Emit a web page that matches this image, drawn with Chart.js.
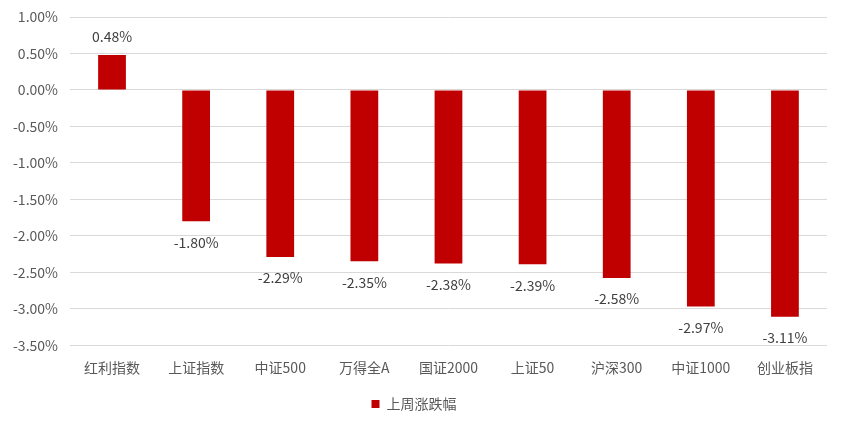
<!DOCTYPE html>
<html>
<head>
<meta charset="utf-8">
<script src="https://cdn.jsdelivr.net/npm/chart.js@4/dist/chart.umd.min.js"></script>
<style>
  html, body { margin: 0; padding: 0; background: #fff; }
  #wrap { width: 843px; height: 428px; }
</style>
</head>
<body>
<div id="wrap"><canvas id="barChart"></canvas></div>
<script>
var categories = ["红利指数", "上证指数", "中证500", "万得全A", "国证2000", "上证50", "沪深300", "中证1000", "创业板指"];
var weeklyChange = [0.48, -1.80, -2.29, -2.35, -2.38, -2.39, -2.58, -2.97, -3.11];
var seriesName = "上周涨跌幅";

var FONT = "'Microsoft YaHei', 'Noto Sans CJK SC', sans-serif";

// draws the value label above / below each bar
var valueLabels = {
  id: 'valueLabels',
  afterDatasetsDraw: function (chart) {
    var ctx = chart.ctx;
    var meta = chart.getDatasetMeta(0);
    ctx.save();
    ctx.font = "14px " + FONT;
    ctx.fillStyle = '#404040';
    ctx.textAlign = 'center';
    ctx.textBaseline = 'middle';
    meta.data.forEach(function (bar, i) {
      var v = weeklyChange[i];
      var y = v >= 0 ? bar.y - 18 : bar.y + 21;
      ctx.fillText(v.toFixed(2) + '%', bar.x, y);
    });
    ctx.restore();
  }
};

var ctxB = document.getElementById("barChart").getContext('2d');
var myBarChart = new Chart(ctxB, {
  type: 'bar',
  data: {
    labels: categories,
    datasets: [{
      label: seriesName,
      data: weeklyChange,
      backgroundColor: '#C00000',
      borderWidth: 0,
      barPercentage: 0.33,
      categoryPercentage: 1.0
    }]
  },
  options: {
    responsive: true,
    maintainAspectRatio: false,
    animation: false,
    layout: { padding: { left: 1, right: 16, top: 17, bottom: 7 } },
    plugins: {
      legend: {
        position: 'bottom',
        labels: {
          usePointStyle: true,
          pointStyle: 'rect',
          boxWidth: 8,
          boxHeight: 8,
          color: '#595959',
          font: { family: FONT, size: 14 },
          padding: 7
        }
      },
      tooltip: { enabled: false }
    },
    scales: {
      x: {
        grid: { display: false, drawTicks: false },
        border: { display: false },
        ticks: {
          color: '#595959',
          font: { family: FONT, size: 14 },
          padding: 14
        }
      },
      y: {
        min: -3.5,
        max: 1.0,
        grid: { color: '#d9d9d9', lineWidth: 1, drawTicks: false },
        border: { display: false },
        ticks: {
          stepSize: 0.5,
          color: '#595959',
          padding: 12,
          font: { family: FONT, size: 14, lineHeight: 0.5 },
          callback: function (v) { return v.toFixed(2) + '%'; }
        }
      }
    }
  },
  plugins: [valueLabels]
});
</script>
</body>
</html>
